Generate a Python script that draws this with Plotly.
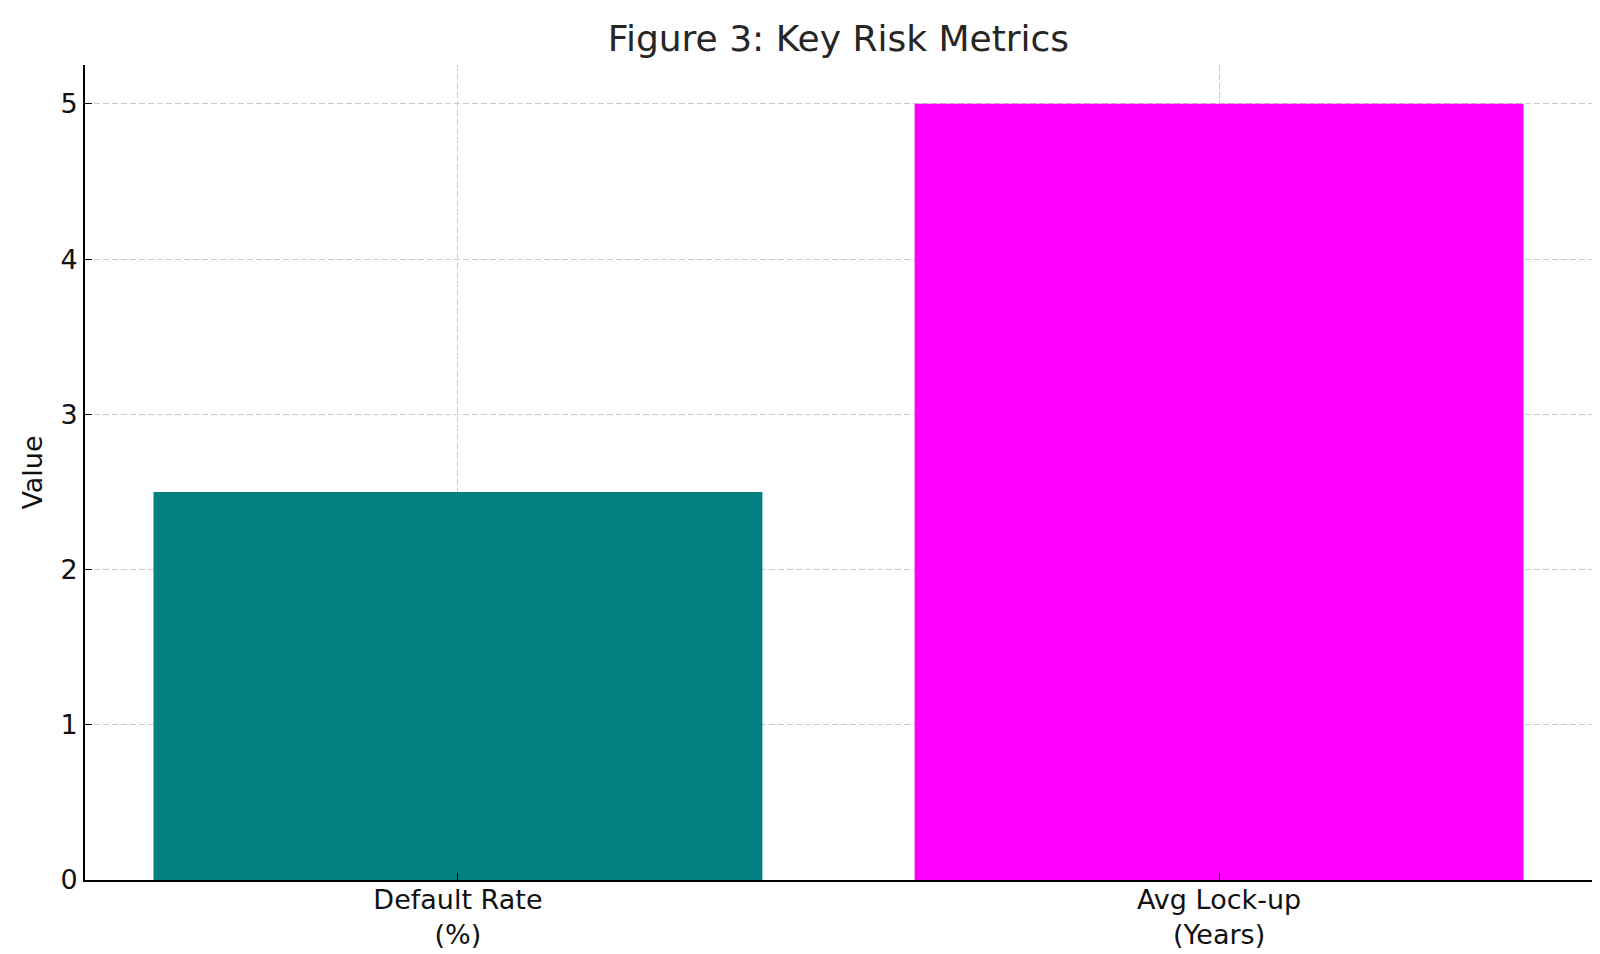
import plotly.graph_objects as go

CATEGORIES = ["Default Rate (%)", "Avg Lock-up (Years)"]
TICK_LABELS = ["Default Rate<br>(%)", "Avg Lock-up<br>(Years)"]
VALUES = [2.5, 5.0]
COLORS = ["#008080", "#ff00ff"]

FONT = "DejaVu Sans, sans-serif"

fig = go.Figure(
    go.Bar(
        x=CATEGORIES,
        y=VALUES,
        width=0.8,
        marker=dict(color=COLORS, line=dict(width=0)),
        showlegend=False,
    )
)

axis_common = dict(
    showline=True,
    linecolor="black",
    linewidth=1.6,
    ticks="inside",
    ticklen=7,
    tickwidth=1.3,
    tickcolor="black",
    showgrid=True,
    gridcolor="#cccccc",
    griddash="6px,3px",
    gridwidth=1,
    zeroline=False,
    layer="above traces",
    tickfont=dict(family=FONT, size=27, color="#111111"),
)

fig.update_xaxes(
    type="category",
    range=[-0.49, 1.49],
    tickvals=CATEGORIES,
    ticktext=TICK_LABELS,
    ticklabelstandoff=-5,
    **axis_common,
)
fig.update_yaxes(
    range=[0, 5.25],
    tickvals=[0, 1, 2, 3, 4, 5],
    title=dict(text="Value", font=dict(family=FONT, size=27, color="#111111"), standoff=10),
    **axis_common,
)

fig.update_layout(
    width=1600,
    height=954,
    paper_bgcolor="white",
    plot_bgcolor="white",
    margin=dict(l=77, r=16, t=57, b=82),
    title=dict(
        text="Figure 3: Key Risk Metrics",
        x=0.5,
        xref="paper",
        xanchor="center",
        y=1 - 30 / 954,
        yanchor="middle",
        font=dict(family=FONT, size=36, color="#262626"),
    ),
)

fig.write_html("out.html")
